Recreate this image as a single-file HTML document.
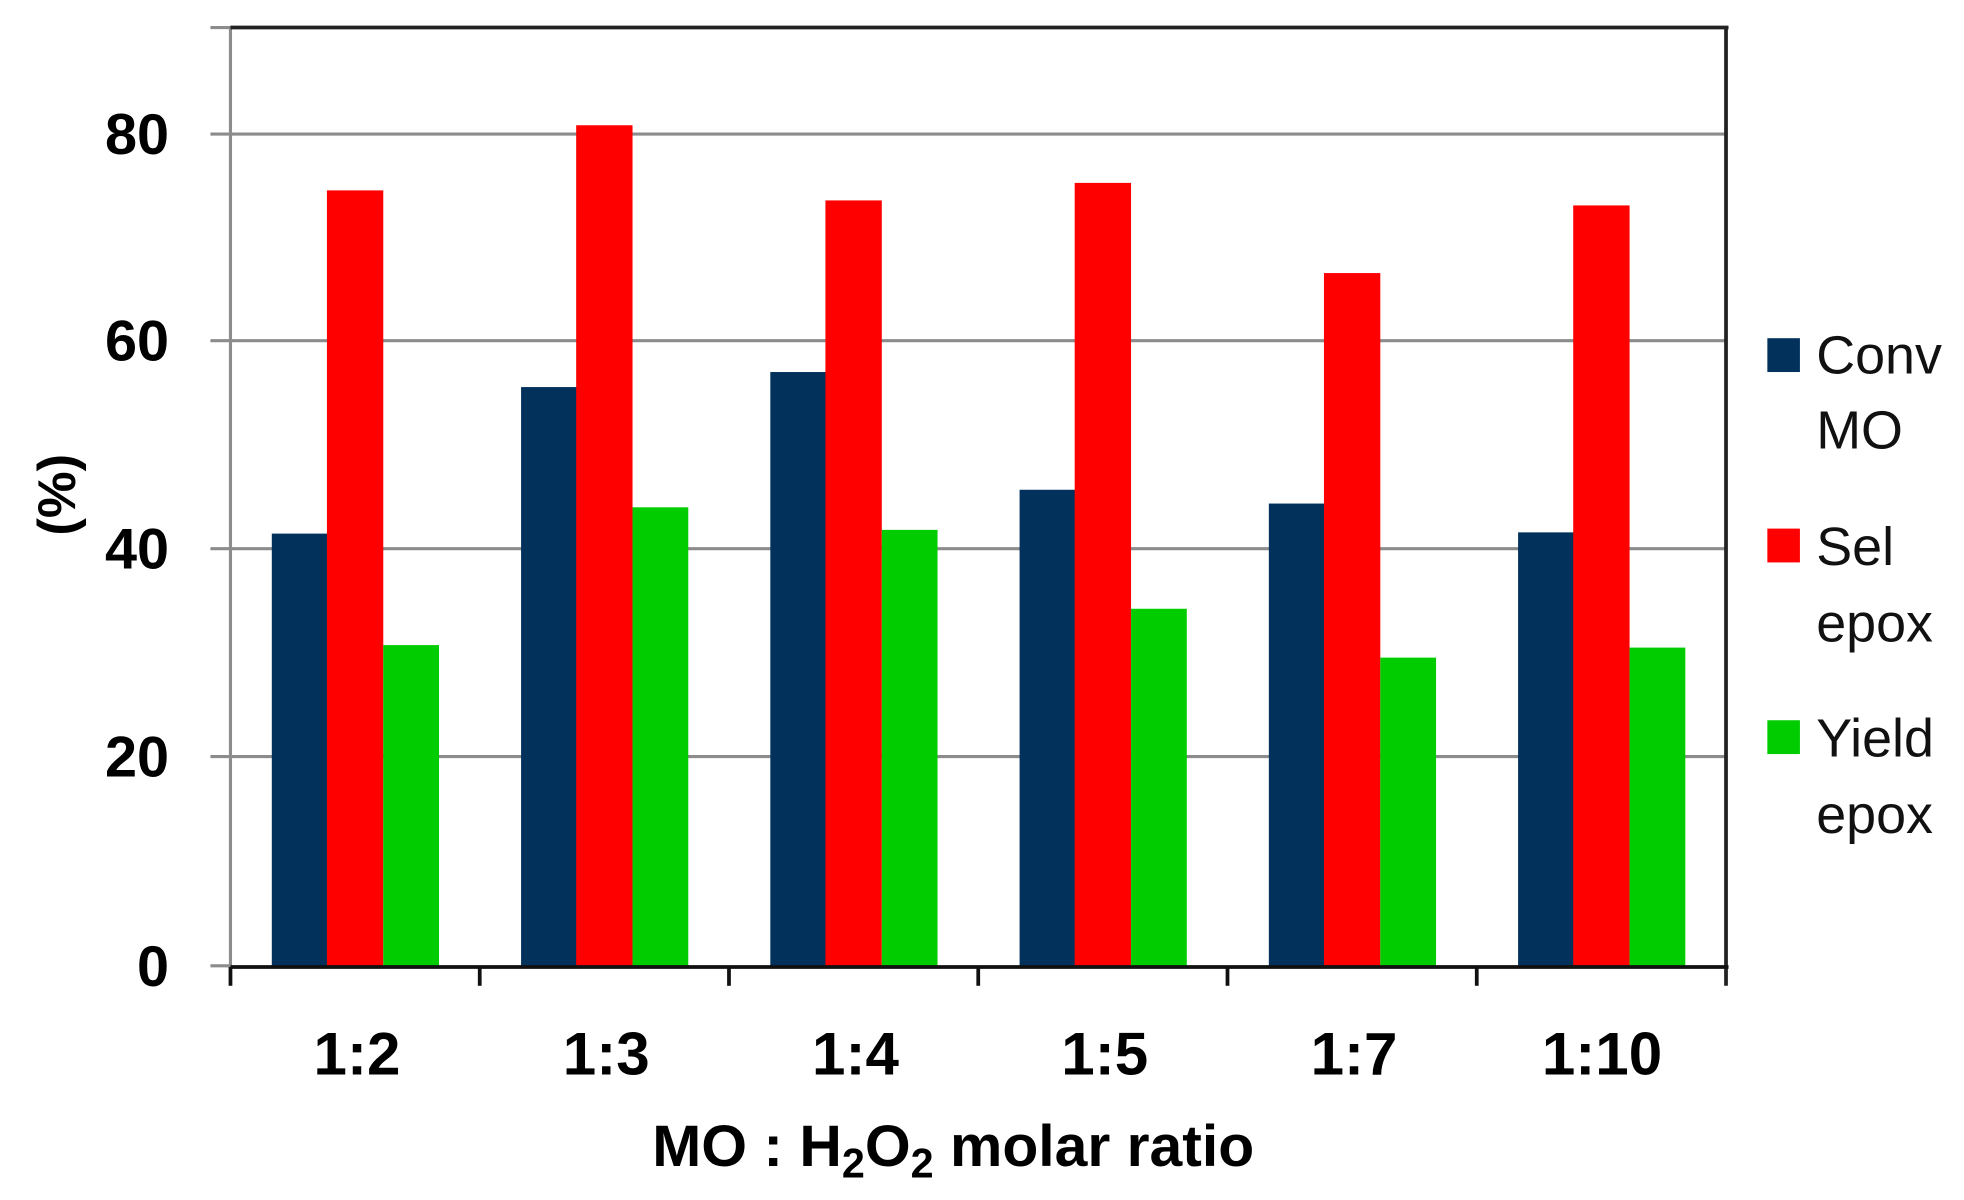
<!DOCTYPE html>
<html><head><meta charset="utf-8"><style>
html,body{margin:0;padding:0;background:#fff;}
svg{display:block;}
text{font-family:"Liberation Sans",sans-serif;}
</style></head><body>
<svg width="1964" height="1200" viewBox="0 0 1568 958" preserveAspectRatio="none" xmlns="http://www.w3.org/2000/svg">
<rect width="1568" height="958" fill="#fff"/>
<g stroke="#8c8c8c" stroke-width="2.5">
<line x1="168" y1="107" x2="1378" y2="107"/>
<line x1="168" y1="272" x2="1378" y2="272"/>
<line x1="168" y1="438" x2="1378" y2="438"/>
<line x1="168" y1="604" x2="1378" y2="604"/>
<line x1="168" y1="771" x2="184" y2="771"/>
<line x1="168" y1="22" x2="184" y2="22"/>
<line x1="184" y1="22" x2="184" y2="771"/>
</g>
<line x1="184" y1="22" x2="1380" y2="22" stroke="#222" stroke-width="3"/>
<line x1="1378" y1="22" x2="1378" y2="787" stroke="#222" stroke-width="3"/>
<g id="bars">
<rect x="217" y="426" width="44.5" height="345" fill="#02325c"/>
<rect x="261" y="152" width="45" height="619" fill="#ff0000"/>
<rect x="306" y="515" width="44.5" height="256" fill="#00cc00"/>
<rect x="416" y="309" width="44.5" height="462" fill="#02325c"/>
<rect x="460" y="100" width="45" height="671" fill="#ff0000"/>
<rect x="505" y="405" width="44.5" height="366" fill="#00cc00"/>
<rect x="615" y="297" width="44.5" height="474" fill="#02325c"/>
<rect x="659" y="160" width="45" height="611" fill="#ff0000"/>
<rect x="704" y="423" width="44.5" height="348" fill="#00cc00"/>
<rect x="814" y="391" width="44.5" height="380" fill="#02325c"/>
<rect x="858" y="146" width="45" height="625" fill="#ff0000"/>
<rect x="903" y="486" width="44.5" height="285" fill="#00cc00"/>
<rect x="1013" y="402" width="44.5" height="369" fill="#02325c"/>
<rect x="1057" y="218" width="45" height="553" fill="#ff0000"/>
<rect x="1102" y="525" width="44.5" height="246" fill="#00cc00"/>
<rect x="1212" y="425" width="44.5" height="346" fill="#02325c"/>
<rect x="1256" y="164" width="45" height="607" fill="#ff0000"/>
<rect x="1301" y="517" width="44.5" height="254" fill="#00cc00"/>
</g>
<g stroke="#111" stroke-width="3">
<line x1="184" y1="772" x2="1380" y2="772"/>
<line x1="184" y1="772" x2="184" y2="787"/>
<line x1="383" y1="772" x2="383" y2="787"/>
<line x1="582" y1="772" x2="582" y2="787"/>
<line x1="781" y1="772" x2="781" y2="787"/>
<line x1="980" y1="772" x2="980" y2="787"/>
<line x1="1179" y1="772" x2="1179" y2="787"/>
</g>
<g font-weight="bold" font-size="46" text-anchor="end" fill="#000">
<text x="135" y="123">80</text>
<text x="135" y="288">60</text>
<text x="135" y="454">40</text>
<text x="135" y="620">20</text>
<text x="135" y="787">0</text>
</g>
<text transform="translate(60,395) rotate(-90)" font-weight="bold" font-size="42" text-anchor="middle">(%)</text>
<g font-weight="bold" font-size="48" text-anchor="middle">
<text x="285" y="858">1:2</text>
<text x="484" y="858">1:3</text>
<text x="683" y="858">1:4</text>
<text x="882" y="858">1:5</text>
<text x="1081" y="858">1:7</text>
<text x="1279" y="858">1:10</text>
</g>
<text x="761" y="931" font-weight="bold" font-size="47" text-anchor="middle">MO : H<tspan font-size="33" dy="9">2</tspan><tspan dy="-9">O</tspan><tspan font-size="33" dy="9">2</tspan><tspan dy="-9"> molar ratio</tspan></text>
<rect x="1411" y="270" width="26" height="27" fill="#02325c"/>
<rect x="1411" y="422" width="26" height="27" fill="#ff0000"/>
<rect x="1411" y="575" width="26" height="27" fill="#00cc00"/>
<g font-size="43" fill="#111">
<text x="1450" y="298">Conv</text>
<text x="1450" y="358">MO</text>
<text x="1450" y="451">Sel</text>
<text x="1450" y="512">epox</text>
<text x="1450" y="604">Yield</text>
<text x="1450" y="665">epox</text>
</g>
</svg>
</body></html>
